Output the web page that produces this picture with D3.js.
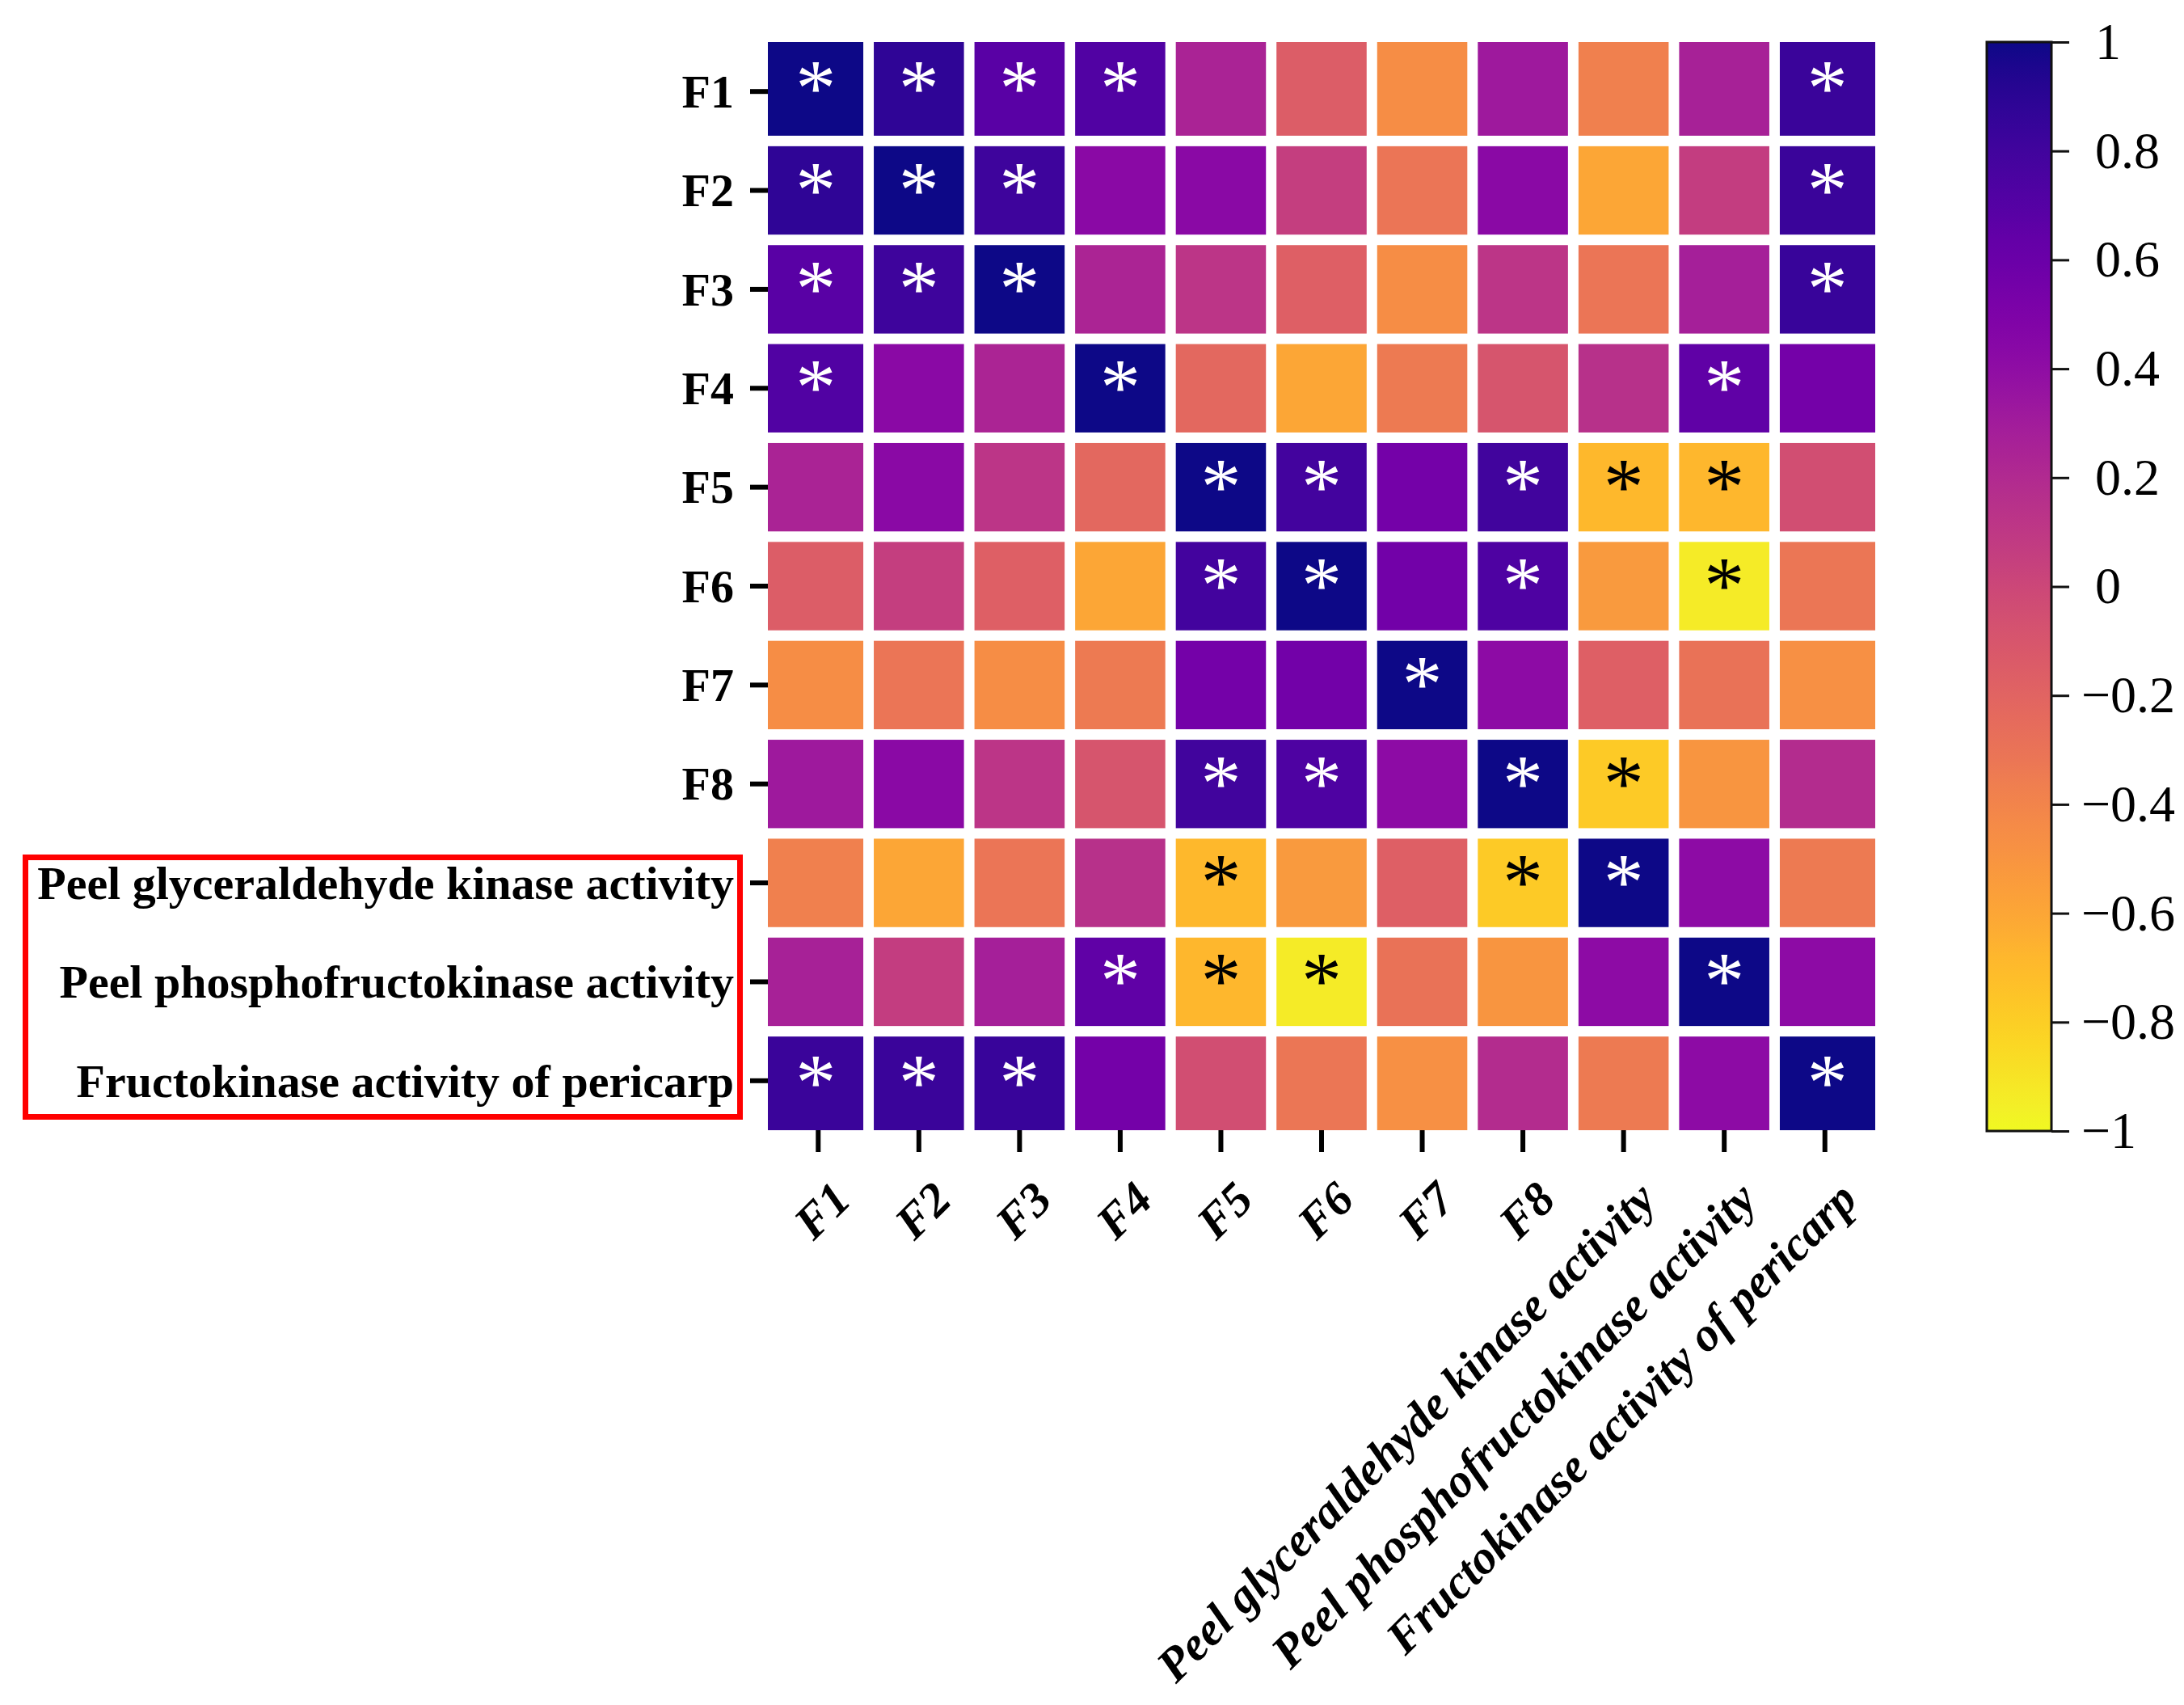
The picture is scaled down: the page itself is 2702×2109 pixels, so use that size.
<!DOCTYPE html>
<html>
<head>
<meta charset="utf-8">
<script src="https://cdn.jsdelivr.net/npm/d3@7"></script>
<style>
  html, body { margin: 0; padding: 0; background: #ffffff; }
  svg { display: block; }
</style>
</head>
<body>
<svg id="chart" width="2702" height="2109"></svg>
<script>
// ---------------- DATA ----------------
const labels = ["F1", "F2", "F3", "F4", "F5", "F6", "F7", "F8",
  "Peel glyceraldehyde kinase activity",
  "Peel phosphofructokinase activity",
  "Fructokinase activity of pericarp"];

const rowF1  = [ 1.00,  0.88,  0.68,  0.72,  0.25, -0.15, -0.46,  0.32, -0.38,  0.26,  0.83];
const rowF2  = [ 0.88,  1.00,  0.82,  0.43,  0.43,  0.06, -0.31,  0.43, -0.60,  0.07,  0.83];
const rowF3  = [ 0.68,  0.82,  1.00,  0.24,  0.12, -0.17, -0.46,  0.12, -0.31,  0.28,  0.84];
const rowF4  = [ 0.72,  0.43,  0.24,  1.00, -0.22, -0.60, -0.34, -0.10,  0.15,  0.65,  0.55];
const rowF5  = [ 0.25,  0.43,  0.12, -0.22,  1.00,  0.79,  0.55,  0.80, -0.69, -0.68, -0.05];
const rowF6  = [-0.15,  0.06, -0.17, -0.60,  0.79,  1.00,  0.56,  0.74, -0.53, -0.93, -0.32];
const rowF7  = [-0.46, -0.31, -0.46, -0.34,  0.55,  0.56,  1.00,  0.42, -0.17, -0.29, -0.47];
const rowF8  = [ 0.32,  0.43,  0.12, -0.10,  0.80,  0.74,  0.42,  1.00, -0.78, -0.50,  0.18];
const rowPGK = [-0.38, -0.60, -0.31,  0.15, -0.69, -0.53, -0.17, -0.78,  1.00,  0.42, -0.34];
const rowPPF = [ 0.26,  0.07,  0.28,  0.65, -0.68, -0.93, -0.29, -0.50,  0.42,  1.00,  0.42];
const rowFKP = [ 0.83,  0.83,  0.84,  0.55, -0.05, -0.32, -0.47,  0.18, -0.34,  0.42,  1.00];
const values = [rowF1, rowF2, rowF3, rowF4, rowF5, rowF6, rowF7, rowF8, rowPGK, rowPPF, rowFKP];

// significance marks per row (1 = "*")
const sigF1  = [1,1,1,1,0,0,0,0,0,0,1];
const sigF2  = [1,1,1,0,0,0,0,0,0,0,1];
const sigF3  = [1,1,1,0,0,0,0,0,0,0,1];
const sigF4  = [1,0,0,1,0,0,0,0,0,1,0];
const sigF5  = [0,0,0,0,1,1,0,1,1,1,0];
const sigF6  = [0,0,0,0,1,1,0,1,0,1,0];
const sigF7  = [0,0,0,0,0,0,1,0,0,0,0];
const sigF8  = [0,0,0,0,1,1,0,1,1,0,0];
const sigPGK = [0,0,0,0,1,0,0,1,1,0,0];
const sigPPF = [0,0,0,1,1,1,0,0,0,1,0];
const sigFKP = [1,1,1,0,0,0,0,0,0,0,1];
const sig = [sigF1, sigF2, sigF3, sigF4, sigF5, sigF6, sigF7, sigF8, sigPGK, sigPPF, sigFKP];

const colorTicks = [1, 0.8, 0.6, 0.4, 0.2, 0, -0.2, -0.4, -0.6, -0.8, -1];

// ---------------- LAYOUT ----------------
const svg = d3.select("#chart");
const serif = "'Liberation Serif', 'Times New Roman', Times, serif";

const gridL = 950, gridR = 2320, gridT = 52, gridB = 1398;
const gap = 13;
const n = labels.length;

const x = d3.scaleBand().domain(d3.range(n)).range([gridL, gridR]).padding(0);
const y = d3.scaleBand().domain(d3.range(n)).range([gridT, gridB]).padding(0);
const color = d3.scaleSequential(d3.interpolatePlasma).domain([1, -1]);

svg.append("rect").attr("width", 2702).attr("height", 2109).attr("fill", "#fff");

const cells = [];
values.forEach((row, i) => row.forEach((v, j) => cells.push({i, j, v, s: sig[i][j]})));

const g = svg.append("g");
g.selectAll("rect.cell").data(cells).enter().append("rect")
  .attr("class", "cell")
  .attr("x", d => x(d.j) + (d.j > 0 ? gap / 2 : 0))
  .attr("y", d => y(d.i) + (d.i > 0 ? gap / 2 : 0))
  .attr("width", d => x.bandwidth() - (d.j > 0 ? gap / 2 : 0) - (d.j < n - 1 ? gap / 2 : 0))
  .attr("height", d => y.bandwidth() - (d.i > 0 ? gap / 2 : 0) - (d.i < n - 1 ? gap / 2 : 0))
  .attr("fill", d => color(d.v));

// significance asterisks (text)
g.selectAll("text.star").data(cells.filter(d => d.s)).enter().append("text")
  .attr("class", "star")
  .attr("x", d => x(d.j) + x.bandwidth() / 2 + (d.j === 0 ? -3 : d.j === n - 1 ? 3 : 0))
  .attr("y", d => y(d.i) + y.bandwidth() / 2 + (d.i === 0 ? -3 : d.i === n - 1 ? 3 : 0) + 32)
  .attr("text-anchor", "middle")
  .attr("font-family", serif)
  .attr("font-size", 100)
  .attr("fill", d => d.v < -0.5 ? "#000" : "#fff")
  .text("*");

// Y axis
const yAxis = d3.axisLeft(y).tickSize(22).tickPadding(20).tickFormat(i => labels[i]);
const gy = svg.append("g").attr("transform", `translate(${gridL},0)`).call(yAxis);
gy.select(".domain").remove();
gy.selectAll(".tick line").attr("stroke", "#000").attr("stroke-width", 6);
gy.selectAll(".tick text")
  .attr("font-family", serif).attr("font-weight", "bold").attr("font-size", 58)
  .attr("fill", "#000").attr("dy", "0.34em");

// X axis
const xAxis = d3.axisBottom(x).tickSize(27).tickFormat(i => labels[i]);
const gx = svg.append("g").attr("transform", `translate(0,${gridB})`).call(xAxis);
gx.select(".domain").remove();
gx.selectAll(".tick line").attr("stroke", "#000").attr("stroke-width", 6);
gx.selectAll(".tick text")
  .attr("font-family", serif).attr("font-weight", "bold").attr("font-style", "italic")
  .attr("font-size", 59).attr("fill", "#000")
  .attr("text-anchor", "end")
  .attr("x", 0).attr("y", 0).attr("dy", 0)
  .attr("transform", "translate(43,89) rotate(-45)");

// Red highlight box
svg.append("rect")
  .attr("x", 31.5).attr("y", 1060.5).attr("width", 884).attr("height", 321)
  .attr("fill", "none").attr("stroke", "#ff0000").attr("stroke-width", 7);

// Colorbar
const cbL = 2458, cbR = 2538, cbT = 52, cbB = 1399;
const defs = svg.append("defs");
const grad = defs.append("linearGradient").attr("id", "cbgrad")
  .attr("x1", 0).attr("y1", 0).attr("x2", 0).attr("y2", 1);
d3.range(0, 1.0001, 0.02).forEach(t => {
  grad.append("stop").attr("offset", t).attr("stop-color", d3.interpolatePlasma(t));
});
svg.append("rect").attr("x", cbL).attr("y", cbT).attr("width", cbR - cbL).attr("height", cbB - cbT)
  .attr("fill", "url(#cbgrad)").attr("stroke", "#111").attr("stroke-width", 3);

const cy = d3.scaleLinear().domain([1, -1]).range([cbT, cbB]);
const cAxis = d3.axisRight(cy).tickValues(colorTicks).tickSize(22).tickPadding(32)
  .tickFormat(v => v < 0 ? "\u2212" + String(Math.abs(+v.toFixed(1))) : String(+v.toFixed(1)));
const gc = svg.append("g").attr("transform", `translate(${cbR},0)`).call(cAxis);
gc.select(".domain").remove();
gc.selectAll(".tick line").attr("stroke", "#111").attr("stroke-width", 3);
gc.selectAll(".tick text")
  .attr("font-family", serif).attr("font-size", 64).attr("fill", "#000")
  .attr("dx", d => d < 0 ? -17 : 0);
</script>
</body>
</html>
